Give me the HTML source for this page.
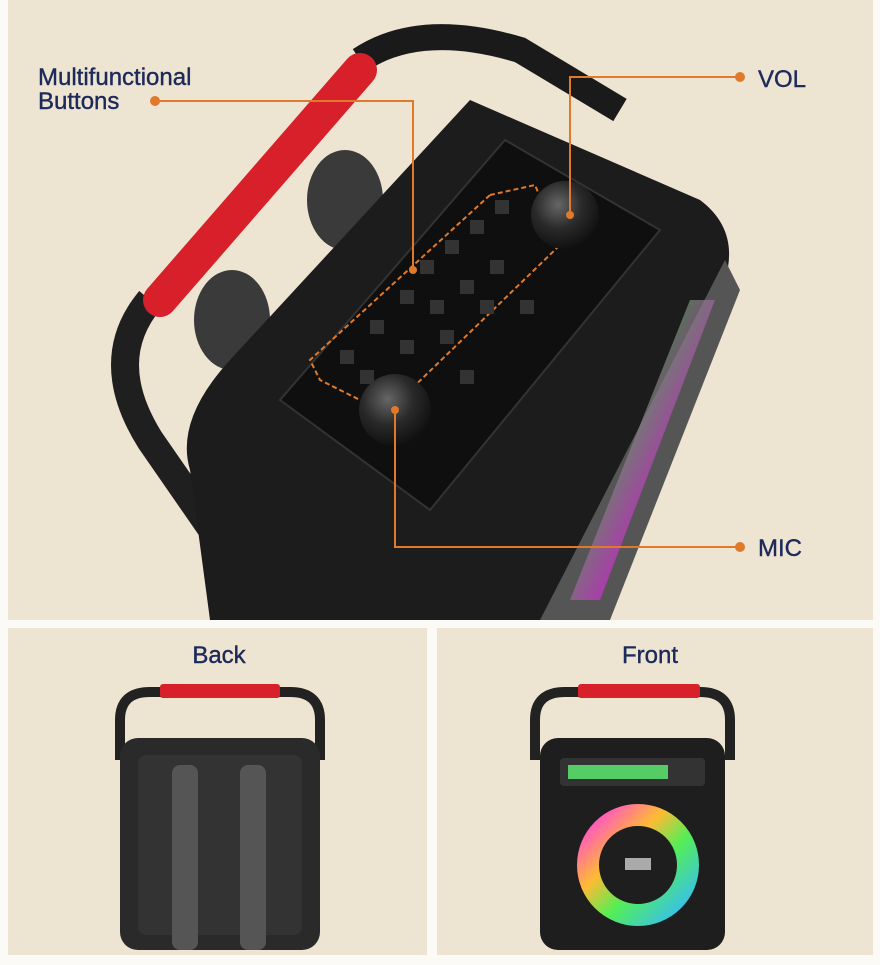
<!DOCTYPE html>
<html><head><style>
body{margin:0;background:#fbfaf6;width:880px;height:960px;overflow:hidden;font-family:"Liberation Sans",sans-serif}
</style></head><body>
<svg width="880" height="960" xmlns="http://www.w3.org/2000/svg">
<defs>
<radialGradient id="kn" cx="40%" cy="35%" r="70%"><stop offset="0" stop-color="#666"/><stop offset="0.5" stop-color="#2a2a2a"/><stop offset="1" stop-color="#0d0d0d"/></radialGradient>
<linearGradient id="rb" x1="0" y1="0" x2="1" y2="1"><stop offset="0" stop-color="#2ec"/><stop offset="0.3" stop-color="#4c4"/><stop offset="0.6" stop-color="#c3c"/><stop offset="1" stop-color="#3af"/></linearGradient>
<linearGradient id="ring" x1="0" y1="0" x2="1" y2="1"><stop offset="0" stop-color="#f4d"/><stop offset="0.35" stop-color="#fb3"/><stop offset="0.6" stop-color="#5e5"/><stop offset="1" stop-color="#3bf"/></linearGradient>
</defs>
<rect x="8" y="0" width="865" height="620" fill="#ede4d2"/>
<rect x="8" y="628" width="419" height="327" fill="#ede4d2"/>
<rect x="437" y="628" width="436" height="327" fill="#ede4d2"/>

<path d="M360 60 Q420 20 520 50 L620 110" stroke="#1a1a1a" stroke-width="26" fill="none"/>
<path d="M150 300 Q100 360 150 440 L240 570" stroke="#1f1f1f" stroke-width="28" fill="none"/>
<path d="M160 300 L360 70" stroke="#d8202a" stroke-width="34" stroke-linecap="round"/>
<ellipse cx="345" cy="200" rx="38" ry="50" fill="#3a3a3a"/>
<ellipse cx="232" cy="320" rx="38" ry="50" fill="#3a3a3a"/>
<path d="M470 100 L700 200 Q740 230 725 280 L600 560 L560 620 L210 620 L190 470 Q175 420 230 360 Z" fill="#1c1c1c"/>
<path d="M725 260 L740 290 L610 620 L540 620 Z" fill="#555"/>
<path d="M715 300 L600 600 L570 600 L690 300 Z" fill="url(#rb)" opacity="0.7"/>
<path d="M505 140 L660 230 L430 510 L280 400 Z" fill="#0f0f0f" stroke="#333" stroke-width="2"/>
<path d="M490 195 L535 185 L560 245 L400 400 L360 400 L320 380 L310 360 Z" fill="none" stroke="#e07a2a" stroke-width="2" stroke-dasharray="5,3"/>
<g fill="#333">
<rect x="420" y="260" width="14" height="14"/><rect x="445" y="240" width="14" height="14"/><rect x="470" y="220" width="14" height="14"/><rect x="495" y="200" width="14" height="14"/>
<rect x="400" y="290" width="14" height="14"/><rect x="430" y="300" width="14" height="14"/><rect x="460" y="280" width="14" height="14"/><rect x="490" y="260" width="14" height="14"/>
<rect x="370" y="320" width="14" height="14"/><rect x="400" y="340" width="14" height="14"/><rect x="440" y="330" width="14" height="14"/><rect x="480" y="300" width="14" height="14"/>
<rect x="340" y="350" width="14" height="14"/><rect x="360" y="370" width="14" height="14"/><rect x="460" y="370" width="14" height="14"/><rect x="520" y="300" width="14" height="14"/>
</g>
<circle cx="565" cy="215" r="34" fill="url(#kn)"/>
<circle cx="395" cy="410" r="36" fill="url(#kn)"/>
<g stroke="#e07a2a" stroke-width="2" fill="none">
<path d="M155 101 H413 V270"/><path d="M740 77 H570 V215"/><path d="M740 547 H395 V410"/>
</g>
<g fill="#e07a2a"><circle cx="155" cy="101" r="5"/><circle cx="740" cy="77" r="5"/><circle cx="740" cy="547" r="5"/><circle cx="413" cy="270" r="4"/><circle cx="570" cy="215" r="4"/><circle cx="395" cy="410" r="4"/></g>
<g font-family="Liberation Sans, sans-serif" font-size="24" fill="#1d2a5a" stroke="#1d2a5a" stroke-width="0.4">
<text x="38" y="85">Multifunctional</text><text x="38" y="109">Buttons</text>
<text x="758" y="87">VOL</text><text x="758" y="556">MIC</text>
<text x="219" y="663" text-anchor="middle">Back</text><text x="650" y="663" text-anchor="middle">Front</text>
</g>
<path d="M120 760 V720 Q120 692 150 692 H290 Q320 692 320 720 V760" stroke="#222" stroke-width="10" fill="none"/>
<rect x="160" y="684" width="120" height="14" rx="3" fill="#d8202a"/>
<rect x="120" y="738" width="200" height="212" rx="18" fill="#2a2a2a"/>
<rect x="138" y="755" width="164" height="180" rx="8" fill="#333"/>
<rect x="172" y="765" width="26" height="185" rx="8" fill="#555"/>
<rect x="240" y="765" width="26" height="185" rx="8" fill="#555"/>
<path d="M535 760 V720 Q535 692 565 692 H700 Q730 692 730 720 V760" stroke="#222" stroke-width="10" fill="none"/>
<rect x="578" y="684" width="122" height="14" rx="3" fill="#d8202a"/>
<rect x="540" y="738" width="185" height="212" rx="18" fill="#1e1e1e"/>
<rect x="560" y="758" width="145" height="28" rx="4" fill="#333"/>
<rect x="568" y="765" width="100" height="14" fill="#5c6"/>
<circle cx="638" cy="865" r="50" fill="none" stroke="url(#ring)" stroke-width="22"/>
<rect x="625" y="858" width="26" height="12" fill="#aaa"/>
</svg>
</body></html>
